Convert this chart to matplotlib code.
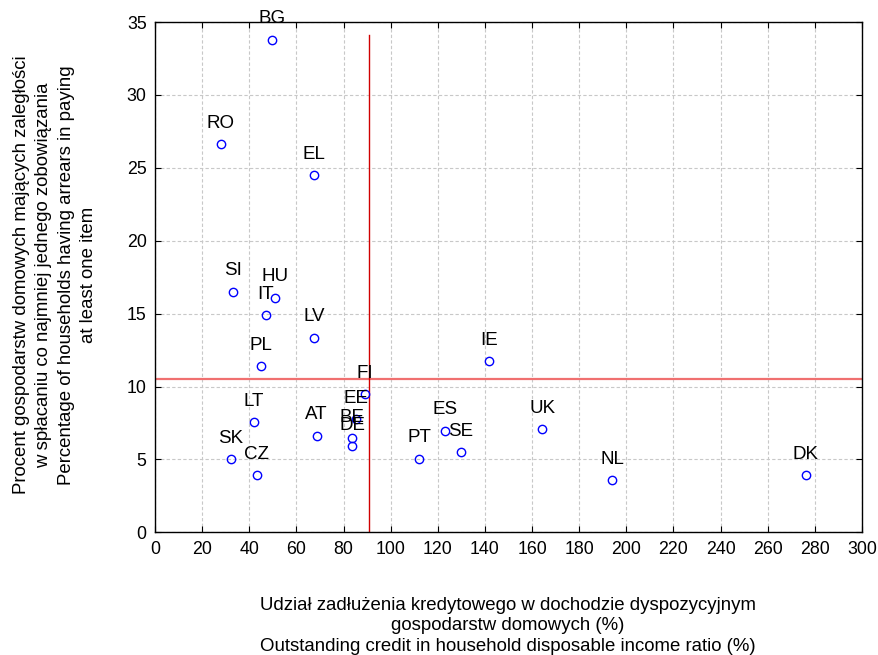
import numpy as np
import matplotlib
matplotlib.use('Agg')
import matplotlib.pyplot as plt

plt.rcParams['font.family'] = ['Liberation Sans', 'DejaVu Sans']

# country codes and values
countries = ['BG', 'RO', 'EL', 'SI', 'HU', 'IT', 'LV', 'PL', 'IE', 'FI', 'EE', 'BE', 'DE',
             'LT', 'AT', 'SK', 'CZ', 'PT', 'ES', 'SE', 'UK', 'NL', 'DK']
credit = [49.6, 28.0, 67.5, 33.0, 50.9, 47.1, 67.6, 44.8, 141.6, 89.1, 85.1, 83.6, 83.6,
          42.0, 68.6, 32.1, 43.1, 112.0, 122.9, 129.7, 164.3, 193.9, 276.2]
arrears = [33.8, 26.6, 24.5, 16.5, 16.1, 14.9, 13.36, 11.4, 11.76, 9.49, 7.78, 6.47, 5.89,
           7.57, 6.63, 5.03, 3.91, 5.05, 6.97, 5.51, 7.09, 3.59, 3.93]

mean_credit = 90.8
mean_arrears = 10.52

xlabel = ('Udział zadłużenia kredytowego w dochodzie dyspozycyjnym\n'
          'gospodarstw domowych (%)\n'
          'Outstanding credit in household disposable income ratio (%)')
ylabel = ('Procent gospodarstw domowych mających zaległości\n'
          'w spłacaniu co najmniej jednego zobowiązania\n'
          'Percentage of households having arrears in paying\n'
          'at least one item')

fig = plt.figure(figsize=(8.79, 6.55), dpi=100)
ax = fig.add_axes([0.1763, 0.1873, 0.8044, 0.7791])

ax.plot(credit, arrears, 'o', markerfacecolor='none', markeredgecolor='#0000ff',
        markersize=6, markeredgewidth=1, zorder=3)
for c, x, y in zip(countries, credit, arrears):
    ax.annotate(c, (x, y), xytext=(0, 15), textcoords='offset points',
                ha='center', va='center', fontsize=13.5, clip_on=False, zorder=4)

ax.axhline(mean_arrears, color='#f07070', lw=1.6, zorder=2)
ax.plot([mean_credit, mean_credit], [0, 34.1], color='#d00000', lw=1, zorder=2)

ax.set_xlim(0, 300)
ax.set_ylim(0, 35)
ax.set_xticks(np.arange(0, 301, 20))
ax.set_yticks(np.arange(0, 36, 5))
ax.grid(True, color='#c8c8c8', linestyle=(0, (3, 2)), lw=0.8)
ax.tick_params(direction='in', top=True, right=True, length=4, labelsize=12.8, pad=6)
for s in ax.spines.values():
    s.set_linewidth(1)

fig.text(508 / 879, 1 - 626 / 655, xlabel, ha='center', va='center', fontsize=13.4,
         multialignment='center', linespacing=1.29)
fig.text(55 / 879, 1 - 275 / 655, ylabel, ha='center', va='center', rotation=90,
         fontsize=13.4, multialignment='center', linespacing=1.41)

fig.savefig('out.png', dpi=100)
